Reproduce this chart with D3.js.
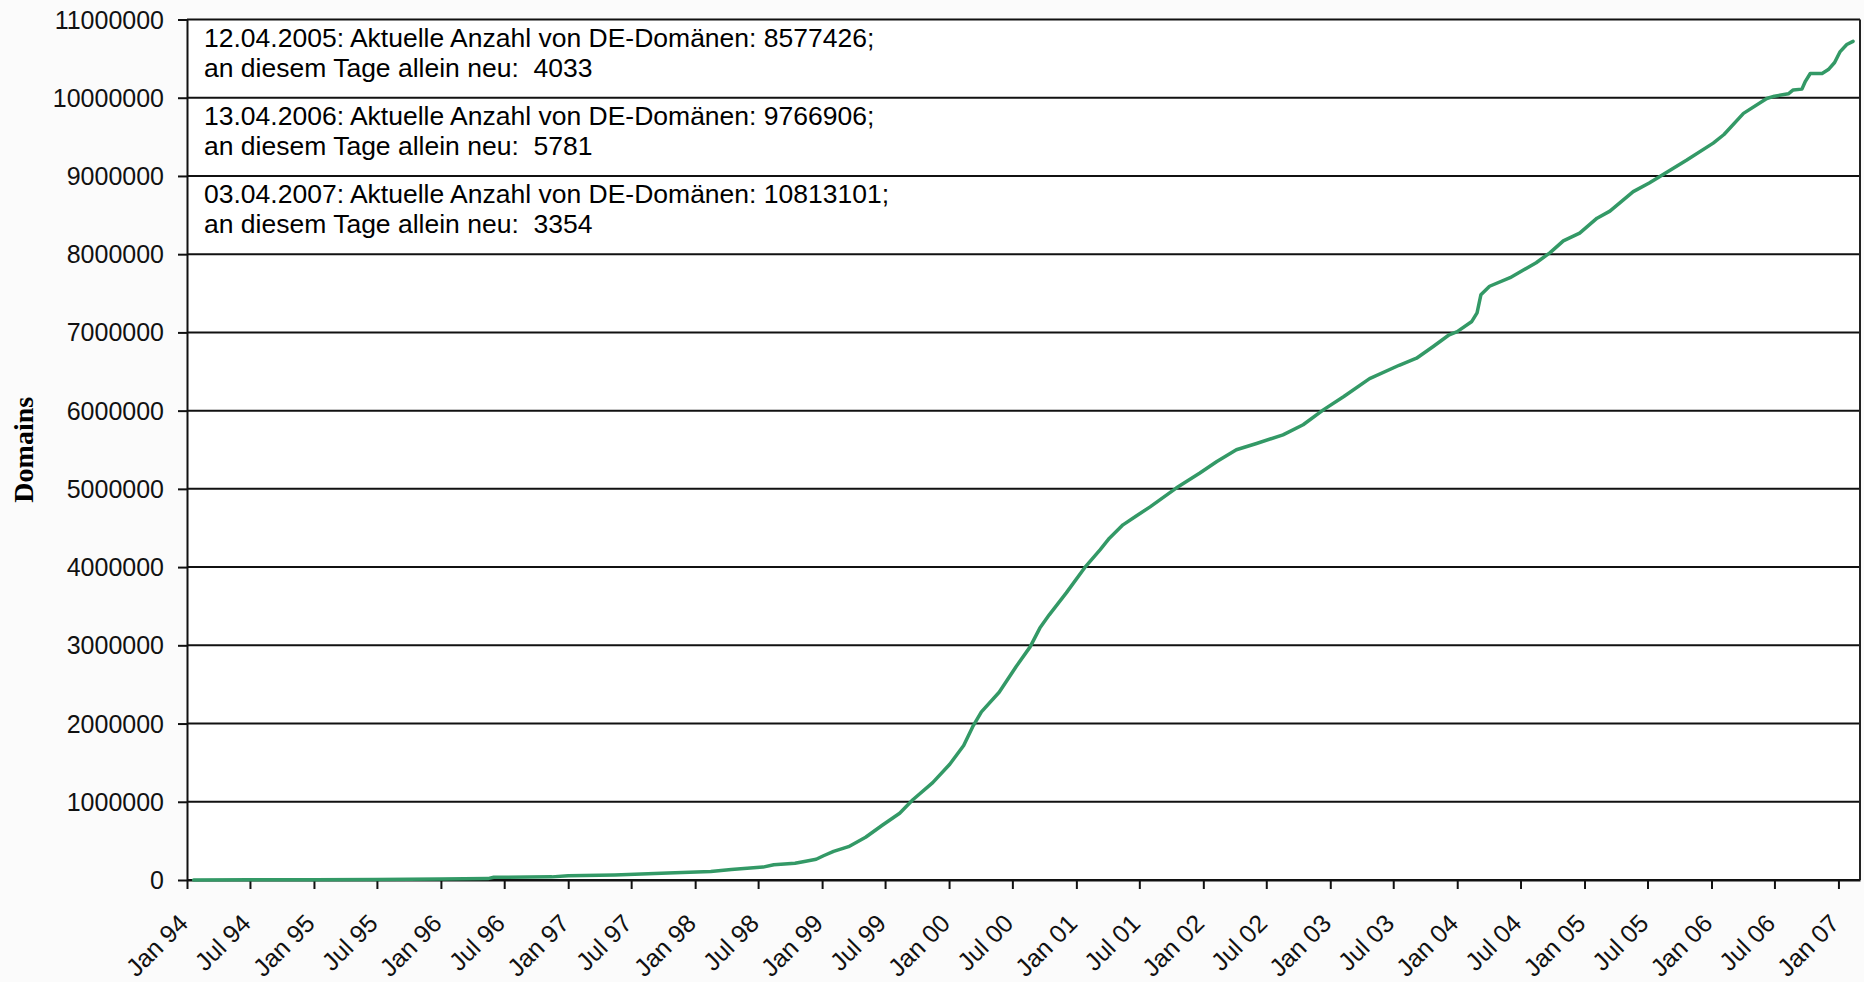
<!DOCTYPE html>
<html>
<head>
<meta charset="utf-8">
<script src="https://cdn.jsdelivr.net/npm/d3@7"></script>
<style>
  body { margin: 0; background: #fbfbfb; }
  .tick text { font-family: Arial, "Liberation Sans", sans-serif; font-size: 25px; fill: #111; }
  .note { font-family: Arial, "Liberation Sans", sans-serif; font-size: 26.5px; fill: #000; white-space: pre; }
</style>
</head>
<body>
<div id="chart"></div>
<script>
// Number of .de domains over time
const dates = [
  "1994-01-20", "1994-07-01", "1995-01-01", "1995-07-01", "1996-01-01", "1996-05-15",
  "1996-06-01", "1996-11-15", "1997-01-01", "1997-05-15", "1997-10-15", "1998-02-15",
  "1998-04-15", "1998-07-15", "1998-08-15", "1998-10-15", "1998-11-15", "1998-12-15",
  "1999-01-05", "1999-02-03", "1999-03-18", "1999-05-06", "1999-06-24", "1999-08-12",
  "1999-09-18", "1999-11-15", "2000-01-03", "2000-02-12", "2000-03-09", "2000-04-03",
  "2000-05-24", "2000-07-12", "2000-08-21", "2000-09-18", "2000-10-15", "2000-12-03",
  "2001-01-28", "2001-03-10", "2001-04-06", "2001-05-15", "2001-06-21", "2001-08-01",
  "2001-10-15", "2001-12-21", "2002-02-09", "2002-04-06", "2002-06-03", "2002-08-18",
  "2002-10-15", "2002-12-12", "2003-02-09", "2003-04-24", "2003-07-18", "2003-09-06",
  "2003-10-24", "2003-12-09", "2004-01-01", "2004-02-12", "2004-02-27", "2004-03-09",
  "2004-04-03", "2004-06-01", "2004-08-15", "2004-09-24", "2004-11-01", "2004-12-18",
  "2005-02-06", "2005-03-15", "2005-05-21", "2005-07-06", "2005-08-15", "2005-10-21",
  "2006-01-06", "2006-02-06", "2006-04-03", "2006-06-09", "2006-07-01", "2006-08-10",
  "2006-08-24", "2006-09-18", "2006-09-28", "2006-10-12", "2006-11-15", "2006-12-03",
  "2006-12-21", "2007-01-06", "2007-01-25", "2007-02-12"
];
const domains = [
  1000, 2000, 4000, 7000, 12000, 18000,
  35000, 40000, 55000, 65000, 90000, 110000,
  135000, 165000, 195000, 215000, 240000, 265000,
  310000, 365000, 426000, 546000, 703000, 853000,
  1023000, 1244000, 1480000, 1720000, 1960000, 2150000,
  2400000, 2730000, 2980000, 3220000, 3390000, 3670000,
  4010000, 4220000, 4370000, 4540000, 4650000, 4770000,
  5010000, 5200000, 5350000, 5500000, 5580000, 5690000,
  5820000, 6010000, 6180000, 6410000, 6580000, 6670000,
  6820000, 6970000, 7010000, 7140000, 7250000, 7480000,
  7590000, 7700000, 7890000, 8020000, 8170000, 8270000,
  8460000, 8550000, 8800000, 8910000, 9020000, 9200000,
  9420000, 9530000, 9800000, 9990000, 10020000, 10050000,
  10100000, 10110000, 10210000, 10310000, 10310000, 10360000,
  10450000, 10590000, 10680000, 10720000
];
const yTicks = [0, 1000000, 2000000, 3000000, 4000000, 5000000, 6000000,
  7000000, 8000000, 9000000, 10000000, 11000000];
const xStart = "1994-01-01";
const xEnd = "2007-03-04";
const yTitle = "Domains";
const notes = [
  ["12.04.2005: Aktuelle Anzahl von DE-Domänen: 8577426;", "an diesem Tage allein neu:  4033"],
  ["13.04.2006: Aktuelle Anzahl von DE-Domänen: 9766906;", "an diesem Tage allein neu:  5781"],
  ["03.04.2007: Aktuelle Anzahl von DE-Domänen: 10813101;", "an diesem Tage allein neu:  3354"]
];

const containerWidth = 1864, containerHeight = 982;
const margin = { top: 19.5, right: 4, bottom: 102, left: 187 };
const width = containerWidth - margin.left - margin.right;
const height = containerHeight - margin.top - margin.bottom;

const parse = d3.timeParse("%Y-%m-%d");
const data = dates.map((d, i) => ({ date: parse(d), value: domains[i] }));

// Scales
const xScale = d3.scaleTime()
  .domain([parse(xStart), parse(xEnd)])
  .range([0, width]);
const yScale = d3.scaleLinear()
  .domain([0, d3.max(yTicks)])
  .range([height, 0]);

const svg = d3.select('#chart').append('svg')
  .attr('width', containerWidth)
  .attr('height', containerHeight)
  .style('display', 'block');

const chartArea = svg.append('g')
  .attr('transform', `translate(${margin.left},${margin.top})`);

// Plot background
chartArea.append('rect')
  .attr('width', width)
  .attr('height', height)
  .attr('fill', '#fff');

// Horizontal grid lines + right border
chartArea.append('g')
  .selectAll('line')
  .data(yTicks)
  .join('line')
  .attr('x1', 0)
  .attr('x2', width)
  .attr('y1', d => yScale(d))
  .attr('y2', d => yScale(d))
  .attr('stroke', '#111')
  .attr('stroke-width', 2);
chartArea.append('line')
  .attr('x1', width).attr('x2', width)
  .attr('y1', 0).attr('y2', height)
  .attr('stroke', '#222')
  .attr('stroke-width', 2);

// Annotations under the top grid lines
notes.forEach((lines, i) => {
  const top = yScale(d3.max(yTicks) - i * 1000000);
  chartArea.append('text')
    .attr('class', 'note')
    .attr('x', 17)
    .attr('y', top + 27)
    .text(lines[0]);
  chartArea.append('text')
    .attr('class', 'note')
    .attr('x', 17)
    .attr('y', top + 57)
    .text(lines[1]);
});

// Axes
const xAxis = d3.axisBottom(xScale)
  .ticks(d3.timeMonth.every(6))
  .tickFormat(d3.timeFormat("%b %y"))
  .tickSize(9)
  .tickSizeOuter(0);
const yAxis = d3.axisLeft(yScale)
  .tickValues(yTicks)
  .tickFormat(d3.format("d"))
  .tickSize(9)
  .tickPadding(14)
  .tickSizeOuter(0);

const xAxisG = chartArea.append('g')
  .attr('transform', `translate(0,${height})`)
  .call(xAxis);
xAxisG.selectAll('.tick text')
  .attr('y', 0)
  .attr('dy', 0)
  .attr('text-anchor', 'end')
  .attr('transform', 'translate(2,45) rotate(-45)');

const yAxisG = chartArea.append('g').call(yAxis);
yAxisG.selectAll('.tick text').attr('dy', '0.34em');

[xAxisG, yAxisG].forEach(g => {
  g.select('.domain').attr('stroke', '#111').attr('stroke-width', 2);
  g.selectAll('.tick line').attr('stroke', '#111').attr('stroke-width', 2);
});

// Y axis title
svg.append('text')
  .attr('transform', `translate(33,${margin.top + height / 2}) rotate(-90)`)
  .attr('text-anchor', 'middle')
  .attr('font-family', '"Liberation Serif", "Times New Roman", serif')
  .attr('font-weight', 'bold')
  .attr('font-size', 28)
  .text(yTitle);

// Domain count line
const line = d3.line()
  .x(d => xScale(d.date))
  .y(d => yScale(d.value));
chartArea.append('path')
  .datum(data)
  .attr('fill', 'none')
  .attr('stroke', '#339966')
  .attr('stroke-width', 3.5)
  .attr('stroke-linejoin', 'round')
  .attr('stroke-linecap', 'round')
  .attr('d', line);
</script>
</body>
</html>
